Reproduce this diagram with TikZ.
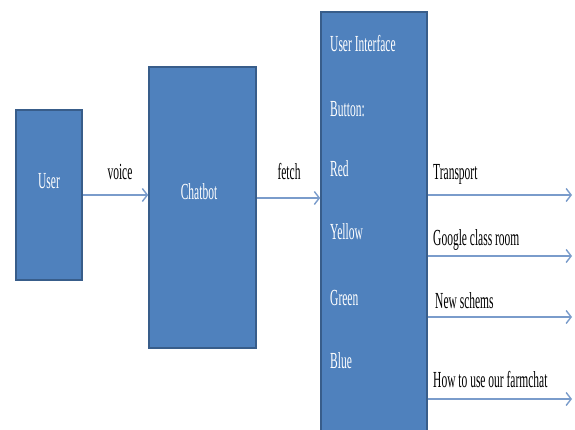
\documentclass[tikz,border=0pt]{standalone}
\usepackage{fontspec}
\setmainfont{Liberation Serif}
\newfontfamily\slimserif[FakeStretch=0.5]{Liberation Serif}
\usetikzlibrary{arrows.meta}

\definecolor{boxblue}{HTML}{4F81BD}
\definecolor{boxedge}{HTML}{385D8A}
\definecolor{linkblue}{HTML}{7A9CCB}

\tikzset{
    block/.style={draw=boxedge, line width=1.6pt, fill=boxblue, inner sep=0pt},
    boxtext/.style={text=white, inner sep=0pt, font=\slimserif\fontsize{23}{27}\selectfont},
    linktext/.style={text=black, inner sep=0pt, font=\slimserif\fontsize{23}{27}\selectfont},
    link/.style={draw=linkblue, line width=1.6pt, -{Straight Barb[length=5pt,width=13pt,line width=1.4pt]}}
}

\begin{document}
\begin{tikzpicture}[x=1pt, y=-1pt]

    \clip (0,0) rectangle (575,430);
    \fill[white] (0,0) rectangle (575,430);

    % boxes
    \node[block, minimum width=66pt, minimum height=170pt] (user) at (49,195) {};
    \node[block, minimum width=107pt, minimum height=281pt] (chatbot) at (202.5,207.5) {};
    \node[block, minimum width=106pt, minimum height=430pt] (ui) at (374,227) {};

    \node[boxtext, anchor=base] (user text) at (49,189) {User};
    \node[boxtext, anchor=base] (chatbot text) at (199,200) {Chatbot};

    \node[boxtext, anchor=base west] (ui title) at (330,52) {User Interface};
    \node[boxtext, anchor=base west] (button) at (330,117) {Button:};
    \node[boxtext, anchor=base west] (red) at (330,177) {Red};
    \node[boxtext, anchor=base west] (yellow) at (330,240) {Yellow};
    \node[boxtext, anchor=base west] (green) at (330,305) {Green};
    \node[boxtext, anchor=base west] (blue) at (330,368) {Blue};

    % links between boxes
    \draw[link] (user.east) -- (user.east -| chatbot.west);
    \node[linktext, anchor=base] (voice) at (120,180) {voice};

    \draw[link] ([yshift=9.5pt]chatbot.east) -- ([yshift=9.5pt]chatbot.east -| ui.west);
    \node[linktext, anchor=base] (fetch) at (289,180) {fetch};

    % outputs
    \coordinate (out1) at (572,195);
    \coordinate (out2) at (572,256);
    \coordinate (out3) at (572,317);
    \coordinate (out4) at (572,399);

    \draw[link] (ui.east |- out1) -- (out1);
    \draw[link] (ui.east |- out2) -- (out2);
    \draw[link] (ui.east |- out3) -- (out3);
    \draw[link] (ui.east |- out4) -- (out4);

    \node[linktext, anchor=base west] (transport) at (433,180) {Transport};
    \node[linktext, anchor=base west] (classroom) at (433,245) {Google class room};
    \node[linktext, anchor=base west] (schemes) at (435,308) {New schems};
    \node[linktext, anchor=base west] (howto) at (433,387) {How to use our farmchat};

\end{tikzpicture}
\end{document}
